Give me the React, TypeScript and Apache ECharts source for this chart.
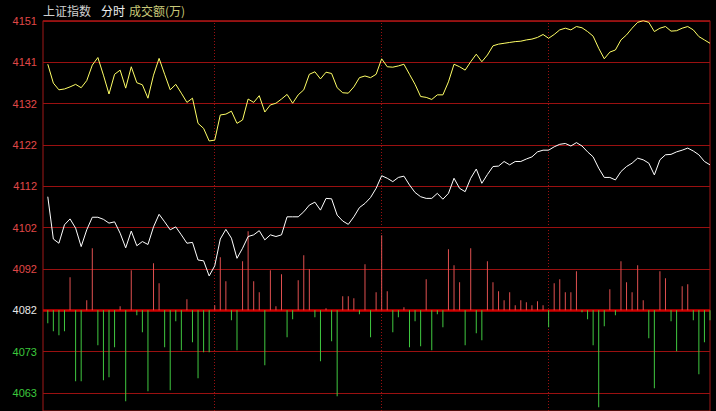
import React, { useEffect, useRef } from "react";
import * as echarts from "echarts";

// Tick labels of the left axis, top to bottom
const tickLabels = ["4151", "4141", "4132", "4122", "4112", "4102", "4092", "4082", "4073", "4063"];
const baseValue = 4082.5; // previous close (the 4082 line)
const stepValue = 9.86; // price step between grid lines

// Quarter-of-day separators (2-minute sample index)
const sessionMarks = [30, 60, 90];

// Yellow line (lead index)
const yellowLine = [
  4141.2, 4136.7, 4135.1, 4135.3, 4135.8, 4136.4, 4135.6, 4137.3, 4141.0, 4142.8,
  4138.6, 4134.1, 4138.8, 4139.8, 4135.5, 4140.6, 4136.8, 4136.3, 4133.1, 4138.6,
  4142.6, 4138.8, 4135.1, 4136.4, 4134.3, 4132.1, 4133.1, 4127.1, 4125.9, 4122.9,
  4123.1, 4129.1, 4129.3, 4130.0, 4127.1, 4127.9, 4132.9, 4132.1, 4133.7, 4129.8,
  4131.5, 4131.9, 4132.9, 4134.0, 4131.9, 4133.9, 4135.1, 4138.8, 4139.4, 4137.7,
  4139.3, 4139.0, 4135.6, 4134.4, 4134.3, 4135.8, 4138.0, 4138.4, 4138.0, 4138.8,
  4142.5, 4140.6, 4140.5, 4140.8, 4141.2, 4138.8, 4136.4, 4133.5, 4133.3, 4132.8,
  4133.9, 4133.9, 4137.0, 4141.2, 4140.6, 4139.8, 4141.8, 4143.6, 4141.8, 4143.4,
  4145.6, 4146.0, 4146.2, 4146.4, 4146.6, 4146.7, 4147.0, 4147.2, 4147.6, 4148.3,
  4147.4, 4148.3, 4149.4, 4149.8, 4149.4, 4150.2, 4149.9, 4149.0, 4147.9, 4145.0,
  4142.5, 4144.1, 4144.6, 4147.0, 4148.2, 4149.8, 4151.2, 4151.6, 4151.2, 4149.0,
  4149.8, 4150.2, 4149.1, 4149.2, 4149.8, 4150.2, 4149.4, 4147.8, 4147.0, 4146.2,
];

// White line (上证指数)
const whiteLine = [
  4109.6, 4099.5, 4098.5, 4102.9, 4104.3, 4102.1, 4097.7, 4101.7, 4104.7, 4104.7,
  4104.2, 4103.3, 4103.6, 4100.9, 4097.4, 4101.4, 4097.9, 4098.9, 4098.2, 4102.4,
  4105.4, 4103.6, 4101.7, 4102.4, 4100.5, 4098.5, 4098.7, 4094.5, 4094.3, 4090.7,
  4093.1, 4099.5, 4101.8, 4099.7, 4094.9, 4097.3, 4100.1, 4100.5, 4101.5, 4099.3,
  4100.5, 4100.1, 4100.5, 4104.8, 4104.8, 4104.8, 4106.0, 4107.6, 4108.3, 4106.4,
  4109.2, 4109.1, 4105.2, 4103.8, 4103.0, 4104.8, 4107.0, 4108.0, 4109.4, 4111.6,
  4114.6, 4114.0, 4113.2, 4114.2, 4114.5, 4112.4, 4110.6, 4109.6, 4109.2, 4109.2,
  4110.4, 4109.0, 4110.4, 4114.0, 4111.6, 4110.8, 4114.0, 4116.2, 4112.8, 4114.9,
  4116.8, 4116.9, 4118.0, 4117.2, 4118.0, 4118.0, 4118.6, 4119.1, 4120.3, 4120.7,
  4120.7, 4121.5, 4122.1, 4122.3, 4121.7, 4122.5, 4121.7, 4120.3, 4119.1, 4116.4,
  4114.2, 4114.2, 4113.6, 4115.6, 4116.8, 4117.6, 4118.8, 4118.4, 4117.6, 4114.8,
  4118.4, 4119.6, 4119.7, 4120.3, 4120.7, 4121.2, 4120.5, 4119.6, 4118.0, 4117.2,
];

// 成交额 bars (万), positive = red up, negative = green down
const turnover = [
  -1300, -2100, -2500, -2100, 3300, -7100, -7100, 1000, 6200, -3500,
  -7000, -6700, -3700, 400, -9100, 4000, -500, -2200, -8100, 4700,
  2700, -3700, -8000, -1100, -4000, 1100, -3200, -6800, -4200, -4200,
  500, 5300, 2900, -1000, -4000, 4900, 7900, 2900, 1800, -5500,
  4000, 400, 3600, -2700, -900, 3000, 5500, 4100, -700, -5100,
  200, -3100, -8600, 1400, 1400, 1200, -400, 4600, -2700, 1800,
  7500, 1900, -2200, -700, 300, -3700, -1100, -3600, 3100, -4000,
  -400, -1700, 6100, 4500, 2800, -3500, 6200, -2300, -3000, 4900,
  2800, 1900, 1000, 1800, 500, 1000, 800, 500, 900, 500,
  -1700, 2700, 3100, 1800, 1800, 3900, -200, -900, -3500, -9700,
  -1600, 2100, -500, 4900, 2800, 1800, 4500, 1000, -2800, -7800,
  3900, 3200, -1100, -4100, 2400, 2600, -1000, -6400, -3200, -1000,
];

const GRID_TOP = 20.7;
const GRID_H = 390.3;
const ZERO_FRAC = 100.7 / 390.3; // fraction of height below the zero line
const PRICE_MIN = baseValue - 2.4365 * stepValue;
const PRICE_MAX = baseValue + 7.007 * stepValue;
const VOL_MIN = -10070;
const VOL_MAX = 28960;

const RED_LABEL = "#e04848";
const GREEN_LABEL = "#3cc83c";
const GRID_RED = "#9a1010";

export default function App() {
  const ref = useRef<HTMLDivElement>(null);

  useEffect(() => {
    document.body.style.margin = "0";
    document.body.style.background = "#000";
    if (!ref.current) return;
    const chart = echarts.init(ref.current, undefined, { renderer: "svg" });

    const hLines = tickLabels.map((lab, j) => {
      const k = 7 - j;
      const isZero = k === 0;
      const color = k > 0 ? RED_LABEL : k === 0 ? "#e8e8e8" : GREEN_LABEL;
      return {
        yAxis: baseValue + k * stepValue,
        lineStyle: {
          color: isZero ? "#d00000" : GRID_RED,
          width: isZero ? 2.5 : 1,
          type: "solid",
        },
        label: {
          show: true,
          position: "start",
          distance: 6,
          formatter: lab,
          color,
          fontSize: 11,
          fontFamily: "Liberation Sans, Arial, sans-serif",
        },
      };
    });
    const vLines = sessionMarks.map((x) => ({
      xAxis: x,
      lineStyle: { color: "#9a1010", width: 1, type: [1, 2] },
      label: { show: false },
    }));

    chart.setOption({
      animation: false,
      backgroundColor: "#000000",
      graphic: [
        {
          type: "text",
          left: 43,
          top: 4,
          style: { text: "上证指数", fill: "#d0d0d0", font: "12px 'Noto Sans CJK SC'" },
        },
        {
          type: "text",
          left: 101,
          top: 4,
          style: { text: "分时", fill: "#f0f0f0", font: "12px 'Noto Sans CJK SC'" },
        },
        {
          type: "text",
          left: 129,
          top: 4,
          style: { text: "成交额(万)", fill: "#c8c878", font: "12px 'Noto Sans CJK SC'" },
        },
      ],
      grid: {
        left: 43,
        right: 6,
        top: GRID_TOP,
        height: GRID_H,
        show: true,
        borderColor: "#a01818",
        borderWidth: 1,
        backgroundColor: "transparent",
      },
      xAxis: {
        type: "value",
        min: -0.86,
        max: 119,
        show: false,
      },
      yAxis: [
        { type: "value", min: PRICE_MIN, max: PRICE_MAX, show: false },
        { type: "value", min: VOL_MIN, max: VOL_MAX, show: false },
      ],
      series: [
        {
          type: "line",
          name: "grid",
          data: [],
          yAxisIndex: 0,
          silent: true,
          markLine: {
            silent: true,
            symbol: "none",
            z: 1,
            animation: false,
            data: [...hLines, ...vLines],
          },
        },
        {
          type: "bar",
          yAxisIndex: 1,
          barWidth: 1,
          z: 2,
          data: turnover.map((v, i) => [i, v]),
          itemStyle: {
            color: (p: any) => (p.value[1] >= 0 ? "#e05050" : "#40c840"),
          },
        },
        {
          type: "line",
          yAxisIndex: 0,
          z: 3,
          symbol: "none",
          data: whiteLine.map((v, i) => [i, v]),
          lineStyle: { color: "#ffffff", width: 1 },
        },
        {
          type: "line",
          yAxisIndex: 0,
          z: 3,
          symbol: "none",
          data: yellowLine.map((v, i) => [i, v]),
          lineStyle: { color: "#ffff66", width: 1 },
        },
      ],
    });
    return () => chart.dispose();
  }, []);

  return <div ref={ref} style={{ width: 716, height: 411, background: "#000" }} />;
}
